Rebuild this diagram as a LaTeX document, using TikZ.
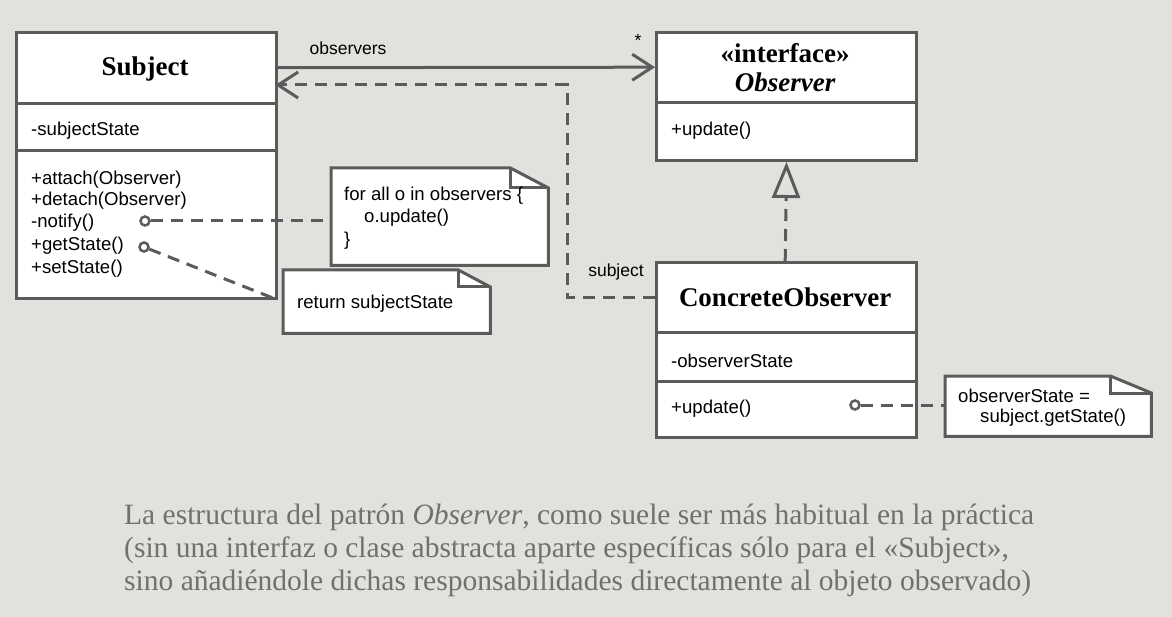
\documentclass[tikz,border=0pt]{standalone}
\usepackage{fontspec}
\setmainfont{Liberation Serif}
\setsansfont{Liberation Sans}
\usetikzlibrary{arrows.meta,calc}
\definecolor{bg}{HTML}{E3E1DD}
\definecolor{ln}{HTML}{5B5B5B}
\definecolor{capc}{HTML}{707070}
\tikzset{
  box/.style={draw=ln, line width=3pt, fill=white, rectangle, inner sep=0pt, anchor=north west},
  hdr/.style={rectangle, inner sep=0pt, anchor=north west, minimum width=260pt, align=center},
  mem/.style={font=\sffamily\fontsize{18.6}{22}\selectfont, anchor=west, inner sep=0pt, align=left},
  ttl/.style={font=\bfseries\fontsize{27}{29}\selectfont},
  conn/.style={draw=ln, line width=3pt},
  dline/.style={conn, dash pattern=on 12pt off 8pt},
  odot/.style={circle, draw=ln, line width=2.5pt, fill=white, minimum size=9pt, inner sep=0pt},
  notebox/.style={rectangle, inner sep=0pt, anchor=north west},
  noteline/.style={draw=ln, line width=3pt, fill=white, line join=miter},
  divider/.style={draw=ln, line width=3pt},
  lbl/.style={font=\sffamily\fontsize{17.5}{20}\selectfont, inner sep=0pt}
}
\begin{document}
\begin{tikzpicture}[x=1pt,y=-1pt]
\fill[bg] (0,0) rectangle (1172,617);
\useasboundingbox (0,0) rectangle (1172,617);

% Subject class
\node[box, minimum width=260pt, minimum height=266pt] (subjbox) at (15,31) {};
\node[hdr, minimum height=73pt] (subjtitle) at (15,31) {};
\node[ttl, inner sep=0pt] (subjname) at (145,69) {Subject};
\draw[divider] (15,104) -- (275,104);
\draw[divider] (15,151) -- (275,151);
\node[mem] (sstate) at (31,131) {-subjectState};
\node[mem] (m1) at (31,180) {+attach(Observer)};
\node[mem] (m2) at (31,201) {+detach(Observer)};
\node[mem] (m3) at (31,223) {-notify()};
\node[mem] (m4) at (31,246) {+getState()};
\node[mem] (m5) at (31,269) {+setState()};

% Observer interface
\node[box, minimum width=260pt, minimum height=128pt] (obsbox) at (655,31) {};
\node[hdr, minimum height=72pt, ttl] (obstitle) at (655,31) {«interface»\\\textit{Observer}};
\draw[divider] (655,103) -- (915,103);
\node[mem] (oupd) at (671,131) {+update()};

% ConcreteObserver
\node[box, minimum width=260pt, minimum height=175pt] (cobox) at (655,261) {};
\node[hdr, minimum height=72pt, ttl] (cotitle) at (655,261) {ConcreteObserver};
\draw[divider] (655,333) -- (915,333);
\draw[divider] (655,381) -- (915,381);
\node[mem] (costate) at (671,361) {-observerState};
\node[mem] (coupd) at (671,409) {+update()};

% Notes
\node[notebox, minimum width=217pt, minimum height=97pt] (n1) at (331,168) {};
\draw[noteline] (n1.north west) -- ($(n1.north east)+(-38,0)$) -- ($(n1.north east)+(0,20)$) -- (n1.south east) -- (n1.south west) -- cycle;
\draw[noteline, fill=none] ($(n1.north east)+(-38,0)$) -- ($(n1.north east)+(-38,20)$) -- ($(n1.north east)+(0,20)$);
\node[mem] (n1a) at (344,196) {for all o in observers \{};
\node[mem] (n1b) at (364,218) {o.update()};
\node[mem] (n1c) at (344,241) {\}};

\node[notebox, minimum width=207pt, minimum height=63pt] (n2) at (283,270) {};
\draw[noteline] (n2.north west) -- ($(n2.north east)+(-32,0)$) -- ($(n2.north east)+(0,17)$) -- (n2.south east) -- (n2.south west) -- cycle;
\draw[noteline, fill=none] ($(n2.north east)+(-32,0)$) -- ($(n2.north east)+(-32,17)$) -- ($(n2.north east)+(0,17)$);
\node[mem] (n2a) at (297,304) {return subjectState};

\node[notebox, minimum width=206pt, minimum height=60pt] (n3) at (945,376) {};
\draw[noteline] (n3.north west) -- ($(n3.north east)+(-41,0)$) -- ($(n3.north east)+(0,17)$) -- (n3.south east) -- (n3.south west) -- cycle;
\draw[noteline, fill=none] ($(n3.north east)+(-41,0)$) -- ($(n3.north east)+(-41,17)$) -- ($(n3.north east)+(0,17)$);
\node[mem] (n3a) at (958,396) {observerState =};
\node[mem] (n3b) at (980,418) {subject.getState()};

% association
\draw[conn, -{Straight Barb[length=20pt,width=26pt,line width=3pt]}] (subjtitle.east) -- (obstitle.west);
\node[lbl] (obsl) at (348,48) {observers};
\node[lbl] (star) at (638,40) {*};

% back reference
\coordinate (bend) at (567,85);
\draw[dline, -{Straight Barb[length=20pt,width=26pt,line width=3pt]}] (cotitle.west) -| (bend) -- (subjtitle.east |- bend);
\node[lbl] (subjl) at (616,272) {subject};

% realization
\draw[dline, -{Triangle[open,length=36pt,width=28pt,line width=3pt]}] (cotitle.north) -- (obsbox.south);

% note connectors
\node[odot] (d1) at (145,221) {};
\node[odot] (d2) at (144,247) {};
\node[odot] (d3) at (855,405) {};
\draw[dline] (d1) -- (d1 -| n1.west);
\draw[dline] (d2) -- (subjbox.south east);
\draw[dline] (d3) -- (d3 -| n3.west);

% caption
\node[anchor=north west, inner sep=0pt, align=left, text=capc, font=\fontsize{29.5}{33}\selectfont] (caption) at (124,504)
{La estructura del patrón \textit{Observer}, como suele ser más habitual en la práctica\\
(sin una interfaz o clase abstracta aparte específicas sólo para el «Subject»,\\
sino añadiéndole dichas responsabilidades directamente al objeto observado)};
\end{tikzpicture}
\end{document}
